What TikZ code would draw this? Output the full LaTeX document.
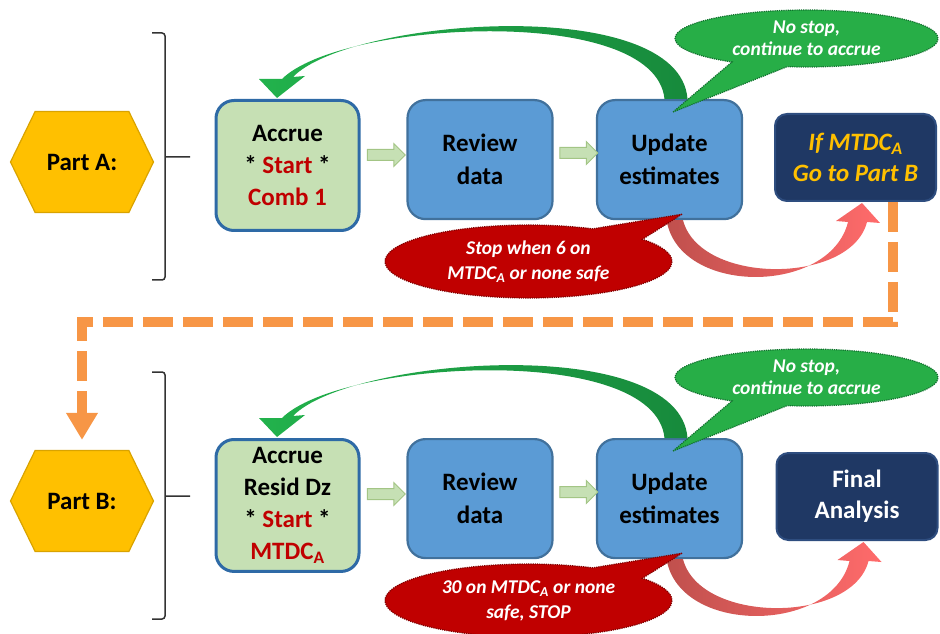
\documentclass[tikz,border=0pt]{standalone}
\usepackage{fontspec}
\setmainfont{Carlito}
\usetikzlibrary{arrows.meta, calc, shapes.symbols, shapes.arrows, shapes.callouts}

\definecolor{hexfill}{HTML}{FFC000}
\definecolor{hexdraw}{HTML}{D9A300}
\definecolor{accfill}{HTML}{C6E0B4}
\definecolor{accdraw}{HTML}{2E6AA6}
\definecolor{blufill}{HTML}{5B9BD5}
\definecolor{bludraw}{HTML}{41719C}
\definecolor{navy}{HTML}{1F3864}
\definecolor{navydraw}{HTML}{2E4D7F}
\definecolor{gold}{HTML}{FFC000}
\definecolor{darkred}{HTML}{C00000}
\definecolor{bubgreen}{HTML}{27AE47}
\definecolor{bubgreendraw}{HTML}{11702E}
\definecolor{bubred}{HTML}{C00000}
\definecolor{bubreddraw}{HTML}{800000}
\definecolor{arrgreen1}{HTML}{22B24C}
\definecolor{arrgreen2}{HTML}{178A3C}
\definecolor{arrred1}{HTML}{C0504D}
\definecolor{arrred2}{HTML}{FF6B6B}
\definecolor{orng}{HTML}{F79646}
\definecolor{smalldraw}{HTML}{A3C585}

\tikzset{
  part/.style={signal, signal to=west and east, signal pointer angle=128,
    fill=hexfill, draw=hexdraw, line width=1.2pt, minimum width=143pt,
    minimum height=101pt, inner sep=0pt, font=\bfseries\fontsize{25}{30}\selectfont},
  brack/.style={line width=1.5pt, draw=black!80, rounded corners=3pt},
  accbox/.style={rectangle, rounded corners=18pt, fill=accfill, draw=accdraw,
    line width=3pt, minimum width=143pt, minimum height=130pt, anchor=north,
    align=center, inner sep=8pt, font=\bfseries\fontsize{25}{32}\selectfont},
  blubox/.style={rectangle, rounded corners=18pt, fill=blufill, draw=bludraw,
    line width=2.2pt, minimum width=145pt, minimum height=119pt, anchor=north,
    align=center, font=\bfseries\fontsize{25}{33}\selectfont},
  navybox/.style={rectangle, rounded corners=12pt, fill=navy, draw=navydraw,
    line width=2pt, minimum width=161pt, minimum height=87pt, anchor=north,
    align=center, font=\bfseries\fontsize{25}{31}\selectfont},
  flow/.style={single arrow, single arrow head extend=6pt,
    single arrow head indent=0pt, inner xsep=0pt, inner ysep=5pt,
    minimum height=38pt, fill=accfill, draw=smalldraw, line width=1pt},
  gobub/.style={ellipse callout, fill=bubgreen, draw=bubgreendraw, densely dotted,
    line width=1.2pt, text=white, align=center, inner sep=0pt,
    minimum width=263pt, minimum height=57pt, callout pointer arc=26,
    font=\bfseries\itshape\fontsize{19.5}{22}\selectfont},
  stopbub/.style={ellipse callout, fill=bubred, draw=bubreddraw, densely dotted,
    line width=1.2pt, text=white, align=center, inner sep=0pt,
    minimum width=287pt, minimum height=73pt, callout pointer arc=26,
    font=\bfseries\itshape\fontsize{19.5}{25}\selectfont},
  orngdash/.style={draw=orng, line width=10pt, dash pattern=on 30pt off 10pt,
    -{Triangle[width=30pt,length=27pt]}, shorten >=10pt}
}

\begin{document}
\begin{tikzpicture}[x=1pt, y=1pt]
\useasboundingbox (0,0) rectangle (940,633);

\begin{scope}
\node[part] (partA) at (82,471) {Part A:};
\draw[brack] (152,600) -- (165,600) -- (165,353) -- (152,353) (165,476) -- (190,476);
\node[accbox] (accA) at (287.5,534) {Accrue\\* {\color{darkred}Start} *\\{\color{darkred}Comb 1}};
\node[blubox] (revA) at (480,534) {Review\\data};
\node[blubox] (updA) at (669.5,534) {Update\\estimates};
\node[navybox, text=gold, font=\bfseries\itshape\fontsize{25}{31}\selectfont] (ifA) at (855.5,520) {If MTDC\textsubscript{A}\\Go to Part B};
\node[flow] (fA1) at (383.5,478) {};
\node[flow] (fA2) at (576,480) {};
\shade[left color=arrgreen1, right color=arrgreen2]
  ($(updA.north)+(18,0)$) .. controls +(-8,106) and +(57,59) .. ($(accA.north)+(5.5,22)$)
  -- ($(accA.north)+(17.5,23)$) -- ($(accA.north)+(-10.5,1)$) -- ($(accA.north)+(-28.5,20)$)
  -- ($(accA.north)+(-5.5,20)$) .. controls +(58,58) and +(-9.5,96) .. ($(updA.north)+(-5,0)$) -- cycle;
\shade[left color=arrred1, right color=arrred2]
  ($(updA.south)+(-3,0)$) .. controls +(13,-76) and +(-18,-73) .. ($(ifA.south)+(-7.5,-20)$)
  -- ($(ifA.south)+(-19.5,-19)$) -- ($(ifA.south)+(6.5,-1)$) -- ($(ifA.south)+(24.5,-21)$)
  -- ($(ifA.south)+(11.5,-20)$) .. controls +(-16,-63) and +(17,-65) .. ($(updA.south)+(13.5,0)$) -- cycle;
\node[gobub, callout absolute pointer={($(updA.north)+(3.5,-13)$)}] (goA) at (806.5,594.5) {No stop,\\continue to accrue};
\node[stopbub, callout absolute pointer={($(updA.south)+(12.5,6)$)}] (stopA) at (528.5,371.5) {Stop when 6 on\\MTDC\textsubscript{A} or none safe};
\end{scope}

\begin{scope}[yshift=-339pt]
\node[part] (partB) at (82,471) {Part B:};
\draw[brack] (152,600) -- (165,600) -- (165,353) -- (152,353) (165,476) -- (190,476);
\node[accbox] (accB) at (287.5,534) {Accrue\\Resid Dz\\* {\color{darkred}Start} *\\{\color{darkred}MTDC\textsubscript{A}}};
\node[blubox] (revB) at (480,534) {Review\\data};
\node[blubox] (updB) at (669.5,534) {Update\\estimates};
\node[navybox, text=white] (finB) at (857,520) {Final\\Analysis};
\node[flow] (fB1) at (383.5,478) {};
\node[flow] (fB2) at (576,480) {};
\shade[left color=arrgreen1, right color=arrgreen2]
  ($(updB.north)+(18,0)$) .. controls +(-8,106) and +(57,59) .. ($(accB.north)+(5.5,22)$)
  -- ($(accB.north)+(17.5,23)$) -- ($(accB.north)+(-10.5,1)$) -- ($(accB.north)+(-28.5,20)$)
  -- ($(accB.north)+(-5.5,20)$) .. controls +(58,58) and +(-9.5,96) .. ($(updB.north)+(-5,0)$) -- cycle;
\shade[left color=arrred1, right color=arrred2]
  ($(updB.south)+(-3,0)$) .. controls +(13,-76) and +(-18,-73) .. ($(finB.south)+(-7.5,-20)$)
  -- ($(finB.south)+(-19.5,-19)$) -- ($(finB.south)+(6.5,-1)$) -- ($(finB.south)+(24.5,-21)$)
  -- ($(finB.south)+(11.5,-20)$) .. controls +(-16,-63) and +(17,-65) .. ($(updB.south)+(13.5,0)$) -- cycle;
\node[gobub, callout absolute pointer={($(updB.north)+(3.5,-13)$)}] (goB) at (806.5,594.5) {No stop,\\continue to accrue};
\node[stopbub, callout absolute pointer={($(updB.south)+(12.5,6)$)}] (stopB) at (528.5,371.5) {30 on MTDC\textsubscript{A} or none\\safe, STOP};
\end{scope}

\draw[orngdash] ([xshift=37.5pt]ifA.south) -- ++(0,-120) -| (partB.north);
\end{tikzpicture}
\end{document}
